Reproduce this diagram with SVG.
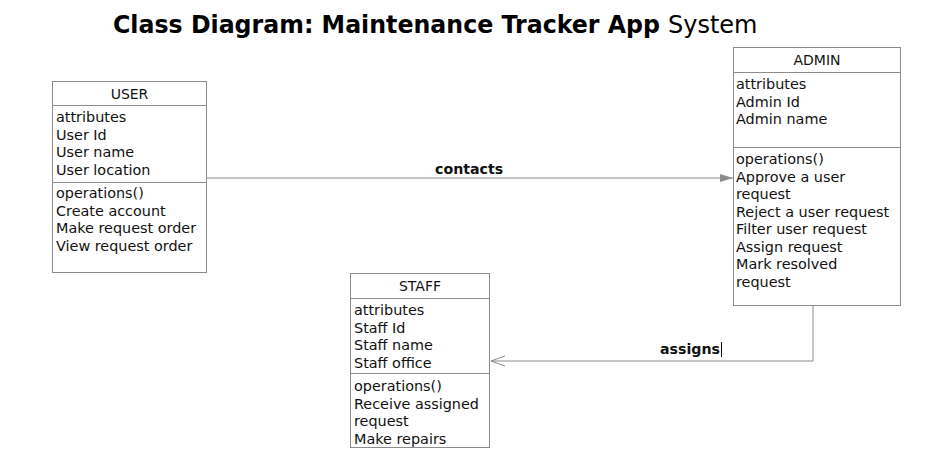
<svg xmlns="http://www.w3.org/2000/svg" width="949" height="457" viewBox="0 0 949 457">
<defs>
<style>
.box{fill:#fff;stroke:#8c8c8c;stroke-width:1}
.sep{stroke:#8c8c8c;stroke-width:1}
.t{font-family:"DejaVu Sans",Verdana,sans-serif;font-size:14.4px;fill:#111}
.h{font-family:"DejaVu Sans",Verdana,sans-serif;font-size:14px;fill:#111;text-anchor:middle}
.lbl{font-family:"DejaVu Sans",Verdana,sans-serif;font-size:14.2px;font-weight:bold;fill:#111}
.con{fill:none;stroke:#8c8c8c;stroke-width:1}
</style>
<marker id="filled" markerWidth="14" markerHeight="10" refX="13" refY="5" orient="auto" markerUnits="userSpaceOnUse">
<path d="M0,1 L13,5 L0,9 Z" fill="#8c8c8c"/>
</marker>
<marker id="open" markerWidth="16" markerHeight="12" refX="14" refY="6" orient="auto" markerUnits="userSpaceOnUse">
<path d="M0,1 L14,6 L0,11" fill="none" stroke="#8c8c8c" stroke-width="1"/>
</marker>
</defs>
<rect width="949" height="457" fill="#fff"/>
<g id="title">
<text x="113" y="33" font-family="DejaVu Sans,Verdana,sans-serif" font-size="24" font-weight="bold" fill="#000" textLength="547" lengthAdjust="spacingAndGlyphs">Class Diagram: Maintenance Tracker App</text>
<text x="668" y="33" font-family="DejaVu Sans,Verdana,sans-serif" font-size="24" fill="#000">System</text>
</g>
<g id="connectors">
<line class="con" x1="207" y1="178" x2="733" y2="178" marker-end="url(#filled)"/>
<polyline class="con" points="813,306 813,361 491,361" marker-end="url(#open)"/>
<text class="lbl" x="435" y="174">contacts</text>
<text class="lbl" x="660" y="354">assigns</text>
<line x1="721.5" y1="342" x2="721.5" y2="357" stroke="#000" stroke-width="1"/>
</g>
<g id="user">
<rect class="box" x="52.5" y="81.5" width="154" height="191"/>
<line class="sep" x1="52.5" y1="105.5" x2="206.5" y2="105.5"/>
<line class="sep" x1="52.5" y1="182.5" x2="206.5" y2="182.5"/>
<text class="h" x="129.5" y="99">USER</text>
<text class="t" x="56" y="122">attributes</text>
<text class="t" x="56" y="139.5">User Id</text>
<text class="t" x="56" y="157">User name</text>
<text class="t" x="56" y="174.5">User location</text>
<text class="t" x="56" y="198">operations()</text>
<text class="t" x="56" y="215.5">Create account</text>
<text class="t" x="56" y="233">Make request order</text>
<text class="t" x="56" y="250.5">View request order</text>
</g>
<g id="admin">
<rect class="box" x="733.5" y="47.5" width="167" height="258"/>
<line class="sep" x1="733.5" y1="72.5" x2="900.5" y2="72.5"/>
<line class="sep" x1="733.5" y1="147.5" x2="900.5" y2="147.5"/>
<text class="h" x="817" y="65">ADMIN</text>
<text class="t" x="736" y="89">attributes</text>
<text class="t" x="736" y="106.5">Admin Id</text>
<text class="t" x="736" y="124">Admin name</text>
<text class="t" x="736" y="164">operations()</text>
<text class="t" x="736" y="181.5">Approve a user</text>
<text class="t" x="736" y="199">request</text>
<text class="t" x="736" y="216.5">Reject a user request</text>
<text class="t" x="736" y="234">Filter user request</text>
<text class="t" x="736" y="251.5">Assign request</text>
<text class="t" x="736" y="269">Mark resolved</text>
<text class="t" x="736" y="286.5">request</text>
</g>
<g id="staff">
<rect class="box" x="350.5" y="273.5" width="139" height="174"/>
<line class="sep" x1="350.5" y1="298.5" x2="489.5" y2="298.5"/>
<line class="sep" x1="350.5" y1="373.5" x2="489.5" y2="373.5"/>
<text class="h" x="420" y="291">STAFF</text>
<text class="t" x="354" y="315">attributes</text>
<text class="t" x="354" y="332.5">Staff Id</text>
<text class="t" x="354" y="350">Staff name</text>
<text class="t" x="354" y="367.5">Staff office</text>
<text class="t" x="354" y="391">operations()</text>
<text class="t" x="354" y="408.5">Receive assigned</text>
<text class="t" x="354" y="426">request</text>
<text class="t" x="354" y="443.5">Make repairs</text>
</g>
</svg>
